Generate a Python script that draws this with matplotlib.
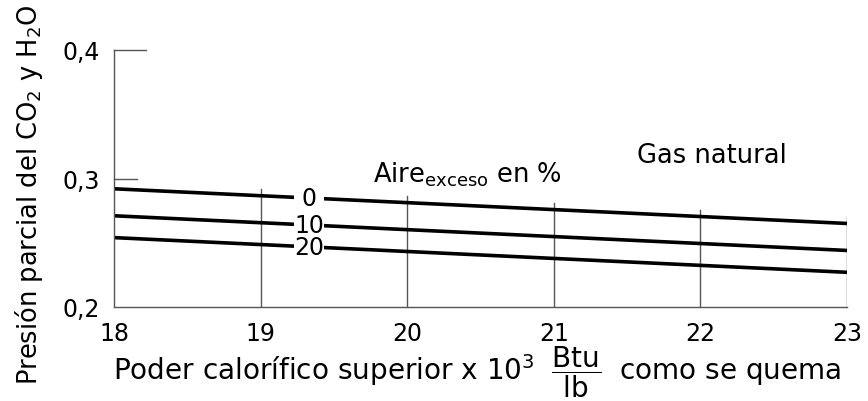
import numpy as np
import matplotlib
matplotlib.use("Agg")
import matplotlib.pyplot as plt

plt.rcParams['font.family'] = ['DejaVu Sans']
plt.rcParams['mathtext.fontset'] = 'dejavusans'

# Data
x_ends = [18, 23]
exceso_labels = ["0", "10", "20"]
line_0 = [0.292, 0.265]
line_10 = [0.271, 0.244]
line_20 = [0.254, 0.227]
series = [line_0, line_10, line_20]
label_x = 19.33
xticks = [18, 19, 20, 21, 22, 23]
ytick_vals = [0.2, 0.3, 0.4]
ytick_labels = ["0,2", "0,3", "0,4"]

W, H = 868, 402
fig = plt.figure(figsize=(W/100, H/100), dpi=100)
ax = fig.add_axes([114/W, 1-308/H, (847-114)/W, (308-51)/H])
ax.set_xlim(18, 23)
ax.set_ylim(0.2, 0.4)

gray = '#555555'
for s in ['top', 'right']:
    ax.spines[s].set_visible(False)
for s in ['left', 'bottom']:
    ax.spines[s].set_color(gray)
    ax.spines[s].set_linewidth(1.0)

# partial vertical grid lines (start just above the 0% curve)
for xv in xticks[1:]:
    top = np.interp(xv, x_ends, line_0) + 0.005
    ax.plot([xv, xv], [0.2, top], color=gray, lw=1.0, zorder=1)

# short inner ticks
ax.plot([18, 18.22], [0.4, 0.4], color=gray, lw=1.0, clip_on=False)
ax.plot([18, 18.16], [0.3, 0.3], color=gray, lw=1.0, clip_on=False)

for vals, lab in zip(series, exceso_labels):
    ax.plot(x_ends, vals, color='black', lw=2.6, solid_capstyle='butt', zorder=2)
    yl = np.interp(label_x, x_ends, vals)
    ax.text(label_x, yl, lab, fontsize=17, ha='center', va='center', zorder=3,
            bbox=dict(facecolor='white', edgecolor='none',
                      boxstyle='square,pad=0.02' if lab != "0" else 'square,pad=0.3'))

ax.set_xticks(xticks)
ax.set_xticklabels([str(v) for v in xticks], fontsize=17)
ax.set_yticks(ytick_vals)
ax.set_yticklabels(ytick_labels, fontsize=17)
ax.tick_params(length=0)
ax.tick_params(axis='y', pad=10)
ax.tick_params(axis='x', pad=10)

def px(x, y):
    return x / W, 1 - y / H

fig.text(*px(373, 183), r"Aire$_{\mathrm{exceso}}$ en %", fontsize=18.5, ha='left', va='baseline')
fig.text(*px(637, 163), "Gas natural", fontsize=18.5, ha='left', va='baseline')

fig.text(*px(29, 195), r"Presión parcial del CO$_2$ y H$_2$O", rotation=90,
         fontsize=18.5, ha='center', va='center')
fig.text(*px(113, 380),
         r"Poder calorífico superior x 10$^3$ $\;\dfrac{\mathrm{Btu}}{\mathrm{lb}}\;$ como se quema",
         fontsize=20.1, ha='left', va='baseline')

fig.savefig("out.png", dpi=100)
